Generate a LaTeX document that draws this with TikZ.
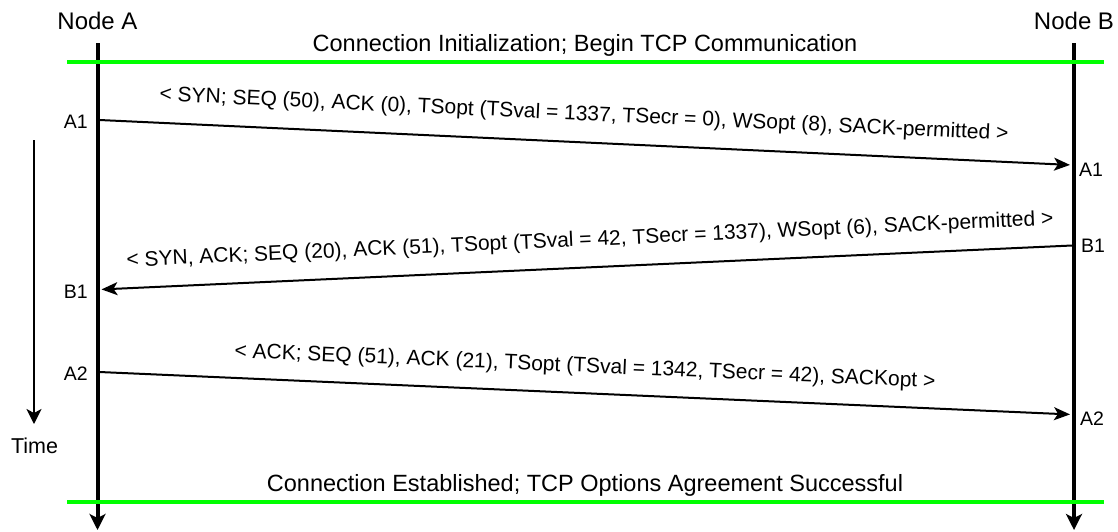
\documentclass[tikz,border=0pt]{standalone}
\usepackage{fontspec}
\setmainfont{Liberation Sans}
\usetikzlibrary{arrows.meta}
\begin{document}
\begin{tikzpicture}[x=1pt,y=-1pt,
  lifeline/.style={line width=4pt,-{Stealth[length=16pt,width=16pt,inset=4pt]}},
  phase/.style={line width=4pt,draw={rgb,255:red,0;green,255;blue,0}},
  msg/.style={line width=2pt,-{Stealth[length=16pt,width=13pt,inset=4pt]},shorten >=2pt},
  timeaxis/.style={line width=2pt,-{Stealth[length=15pt,width=15pt,inset=4pt]}},
  party/.style={font=\fontsize{24}{28}\selectfont,inner sep=0pt},
  banner/.style={font=\fontsize{23.5}{28}\selectfont,inner sep=0pt},
  evt/.style={font=\fontsize{19.5}{23}\selectfont,inner sep=0pt},
  msgtext/.style={font=\fontsize{21}{25}\selectfont,inner sep=0pt},
]
\useasboundingbox (0,0) rectangle (1118,531);

% participants
\node[party] (nodeA) at (97.5,21) {Node A};
\node[party] (nodeB) at (1074,21) {Node B};

% lifelines
\coordinate (Atop) at (97.5,43);
\coordinate (Abot) at (97.5,530);
\coordinate (Btop) at (1074,43);
\coordinate (Bbot) at (1074,530);
\draw[lifeline] (Atop) -- (Abot);
\draw[lifeline] (Btop) -- (Bbot);

% phase separators
\coordinate (g1l) at (67,62.3);
\coordinate (g1r) at (1104,62.3);
\coordinate (g2l) at (67,502.3);
\coordinate (g2r) at (1104,502.3);
\draw[phase] (g1l) -- (g1r);
\draw[phase] (g2l) -- (g2r);
\node[banner] (open) at (585,45) {Connection Initialization; Begin TCP Communication};
\node[banner] (done) at (585,485) {Connection Established; TCP Options Agreement Successful};

% time axis
\coordinate (t0) at (34,140);
\coordinate (t1) at (34,424);
\draw[timeaxis] (t0) -- (t1);
\node[evt,font=\fontsize{21.5}{25}\selectfont] (time) at (34.5,446) {Time};

% message endpoints
\coordinate (a1s) at (99.5,120);
\coordinate (a1e) at (1072,165);
\coordinate (b1s) at (1072,245.5);
\coordinate (b1e) at (99.5,289.5);
\coordinate (a2s) at (99.5,372);
\coordinate (a2e) at (1072,414.5);

% event labels
\node[evt,anchor=east] (lA1) at (88,121.5) {A1};
\node[evt,anchor=west] (rA1) at (1079,170) {A1};
\node[evt,anchor=west] (rB1) at (1081,245.5) {B1};
\node[evt,anchor=east] (lB1) at (88,292) {B1};
\node[evt,anchor=east] (lA2) at (88,374) {A2};
\node[evt,anchor=west] (rA2) at (1080,419) {A2};

% messages
\draw[msg] (a1s) -- (a1e);
\draw[msg] (b1s) -- (b1e);
\draw[msg] (a2s) -- (a2e);

\node[msgtext,rotate=-2.65] (m1) at (584,115)
  {< SYN; SEQ (50), ACK (0), TSopt (TSval = 1337, TSecr = 0), WSopt (8), SACK-permitted >};
\node[msgtext,rotate=2.59] (m2) at (590,240.5)
  {< SYN, ACK; SEQ (20), ACK (51), TSopt (TSval = 42, TSecr = 1337), WSopt (6), SACK-permitted >};
\node[msgtext,rotate=-2.47] (m3) at (585,367)
  {< ACK; SEQ (51), ACK (21), TSopt (TSval = 1342, TSecr = 42), SACKopt >};
\end{tikzpicture}
\end{document}
